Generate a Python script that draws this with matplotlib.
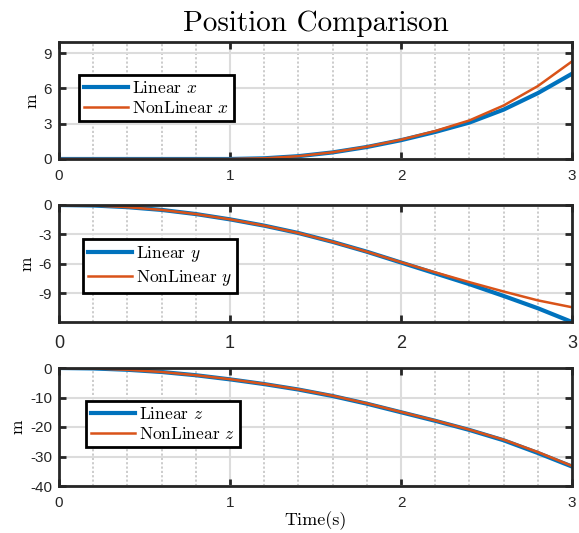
import matplotlib
matplotlib.use("Agg")
import matplotlib.pyplot as plt
from matplotlib.ticker import MultipleLocator

plt.rcParams['mathtext.fontset'] = 'cm'
plt.rcParams['axes.unicode_minus'] = False

# ---- data ----
t = [0.0, 0.2, 0.4, 0.6, 0.8, 1.0, 1.2, 1.4, 1.6, 1.8, 2.0, 2.2, 2.4, 2.6, 2.8, 3.0]

x_lin = [0, 0, 0, 0, 0, 0, 0.06, 0.24, 0.56, 1.02, 1.60, 2.30, 3.10, 4.20, 5.60, 7.25]
x_non = [0, 0, 0, 0, 0, 0, 0.06, 0.24, 0.57, 1.04, 1.64, 2.38, 3.28, 4.55, 6.20, 8.30]

y_lin = [0, -0.05, -0.22, -0.50, -0.92, -1.46, -2.10, -2.85, -3.75, -4.75, -5.85,
         -6.95, -8.05, -9.25, -10.50, -11.90]
y_non = [0, -0.05, -0.22, -0.50, -0.92, -1.46, -2.10, -2.85, -3.75, -4.75, -5.82,
         -6.85, -7.85, -8.80, -9.70, -10.40]

z_lin = [0, -0.15, -0.60, -1.35, -2.45, -3.85, -5.45, -7.30, -9.50, -12.10, -15.00,
         -17.90, -21.00, -24.50, -28.80, -33.40]
z_non = [0, -0.15, -0.60, -1.35, -2.45, -3.80, -5.40, -7.25, -9.40, -12.00, -14.90,
         -17.80, -20.90, -24.30, -28.50, -33.20]

x_ticks = [0, 1, 2, 3]
y_ticks_top = [0, 3, 6, 9]
y_ticks_mid = [-9, -6, -3, 0]
y_ticks_bot = [-40, -30, -20, -10, 0]

labels = [("Linear $x$", "NonLinear $x$"),
          ("Linear $y$", "NonLinear $y$"),
          ("Linear $z$", "NonLinear $z$")]

BLUE = '#0072BD'
ORANGE = '#D95319'
FRAME = '#262626'
SERIF = 'cmr10'
SANS = 'Liberation Sans'

fig = plt.figure(figsize=(5.79, 5.33), dpi=100)

W = 513 / 579
L = 59 / 579
positions = [
    [L, 374 / 533, W, 117 / 533],
    [L, 211 / 533, W, 117 / 533],
    [L, 47 / 533, W, 118 / 533],
]
series = [(x_lin, x_non), (y_lin, y_non), (z_lin, z_non)]
yticks = [y_ticks_top, y_ticks_mid, y_ticks_bot]
ylims = [(0, 9.95), (-11.9, 0), (-40, 0)]
leg_anchor = [(0.039, 0.718), (0.047, 0.709), (0.053, 0.72)]
xtick_sizes = [11, 13, 11]
xtick_pads = [7, 9, 7]

for i, ax_pos in enumerate(positions):
    ax = fig.add_axes(ax_pos)
    lin, non = series[i]
    ax.plot(t, lin, color=BLUE, lw=3.0, label=labels[i][0])
    ax.plot(t, non, color=ORANGE, lw=1.8, label=labels[i][1])
    ax.set_xlim(0, 3)
    ax.set_ylim(*ylims[i])
    ax.set_xticks(x_ticks)
    ax.set_yticks(yticks[i])
    ax.xaxis.set_minor_locator(MultipleLocator(0.2))
    ax.grid(True, which='major', color='#DCDCDC', lw=1.5, ls='-')
    ax.grid(True, which='minor', axis='x', color='#C8C8C8', lw=1.3, ls=(0, (1.2, 1.2)))
    ax.set_axisbelow(True)
    for sp in ax.spines.values():
        sp.set_color(FRAME)
        sp.set_linewidth(2.0)
    ax.tick_params(which='major', direction='in', length=5, width=2.0, color=FRAME,
                   top=True, right=True)
    ax.tick_params(which='minor', length=0)
    ax.tick_params(axis='y', labelsize=11, labelcolor=FRAME, pad=5)
    ax.tick_params(axis='x', labelsize=xtick_sizes[i], labelcolor=FRAME, pad=xtick_pads[i])
    for lab in ax.get_xticklabels() + ax.get_yticklabels():
        lab.set_family(SANS)
    ax.set_ylabel('m', family=SERIF, fontsize=12.5, labelpad=3)
    leg = ax.legend(loc='upper left', bbox_to_anchor=leg_anchor[i], fancybox=False,
                    framealpha=1, edgecolor='black', borderaxespad=0,
                    handlelength=2.5, handletextpad=0.25, borderpad=0.3,
                    labelspacing=0.2, prop={'family': SERIF, 'size': 12.5})
    leg.get_frame().set_linewidth(2.0)
    if i == 0:
        ax.set_title('Position Comparison', family=SERIF, fontsize=21, pad=8)
    if i == 2:
        ax.set_xlabel('Time(s)', family=SERIF, fontsize=13, labelpad=1)

fig.savefig('out.png', dpi=100)
